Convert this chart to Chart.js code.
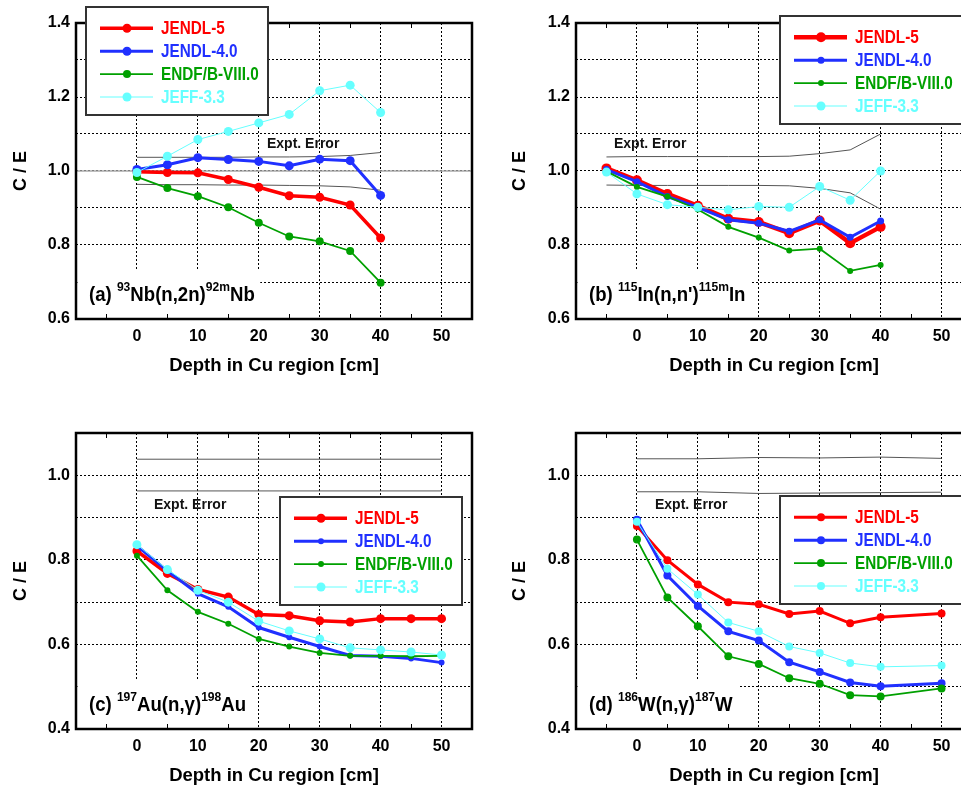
<!DOCTYPE html>
<html><head><meta charset="utf-8">
<script src="https://cdn.jsdelivr.net/npm/chart.js@4.4.1/dist/chart.umd.min.js"></script>
<style>
html,body{margin:0;padding:0;background:#fff;overflow:hidden;width:961px;height:789px;position:relative;}
canvas{position:absolute;}
</style></head><body>
<canvas id="pa" width="480" height="390" style="left:0;top:0"></canvas>
<canvas id="pb" width="500" height="390" style="left:480px;top:0"></canvas>
<canvas id="pc" width="480" height="390" style="left:0;top:410px"></canvas>
<canvas id="pd" width="500" height="390" style="left:480px;top:410px"></canvas>
<script>
// ---------- data ----------
const seriesNames = ['JENDL-5', 'JENDL-4.0', 'ENDF/B-VIII.0', 'JEFF-3.3'];
const xTicks = [0, 10, 20, 30, 40, 50];
const xMinorTicks = [-5, 5, 15, 25, 35, 45];
const yTicksTop = [0.6, 0.7, 0.8, 0.9, 1.0, 1.1, 1.2, 1.3, 1.4];
const yLabelsTop = ['0.6', '', '0.8', '', '1.0', '', '1.2', '', '1.4'];
const yTicksBot = [0.4, 0.5, 0.6, 0.7, 0.8, 0.9, 1.0, 1.1];
const yLabelsBot = ['0.4', '', '0.6', '', '0.8', '', '1.0', ''];

// (a) 93Nb(n,2n)92mNb
const depthA = [0, 5, 10, 15, 20, 25, 30, 35, 40];
const nbJENDL5  = [0.998, 0.996, 0.995, 0.977, 0.956, 0.933, 0.929, 0.908, 0.819];
const nbJENDL40 = [1.004, 1.017, 1.036, 1.031, 1.026, 1.014, 1.032, 1.028, 0.934];
const nbENDF    = [0.984, 0.954, 0.932, 0.902, 0.860, 0.823, 0.810, 0.784, 0.698];
const nbJEFF    = [0.996, 1.040, 1.085, 1.107, 1.130, 1.153, 1.217, 1.232, 1.158];
const nbErrUpper = [1.037, 1.037, 1.037, 1.037, 1.038, 1.038, 1.039, 1.042, 1.050];
const nbErrLower = [0.964, 0.963, 0.963, 0.962, 0.962, 0.961, 0.960, 0.957, 0.948];
const nbRefX = [-10, 55];
const nbRefY = [1.0, 1.0];

// (b) 115In(n,n')115mIn
const depthB = [-5, 0, 5, 10, 15, 20, 25, 30, 35, 40];
const inJENDL5  = [1.007, 0.975, 0.938, 0.906, 0.871, 0.862, 0.832, 0.866, 0.805, 0.849];
const inJENDL40 = [1.004, 0.971, 0.931, 0.902, 0.868, 0.859, 0.837, 0.868, 0.821, 0.865];
const inENDF    = [0.999, 0.957, 0.931, 0.896, 0.849, 0.820, 0.785, 0.790, 0.730, 0.746];
const inJEFF    = [0.997, 0.938, 0.909, 0.902, 0.895, 0.904, 0.902, 0.958, 0.921, 1.000];
const inErrUpper = [1.038, 1.039, 1.039, 1.039, 1.039, 1.039, 1.040, 1.047, 1.057, 1.100];
const inErrLower = [0.962, 0.961, 0.961, 0.961, 0.961, 0.961, 0.960, 0.953, 0.941, 0.897];

// (c) 197Au(n,γ)198Au
const depthC = [0, 5, 10, 15, 20, 25, 30, 35, 40, 45, 50];
const auJENDL5  = [0.821, 0.768, 0.730, 0.712, 0.671, 0.668, 0.656, 0.653, 0.661, 0.661, 0.661];
const auJENDL40 = [0.833, 0.774, 0.720, 0.689, 0.640, 0.617, 0.595, 0.574, 0.572, 0.567, 0.557];
const auENDF    = [0.810, 0.728, 0.677, 0.649, 0.613, 0.595, 0.580, 0.573, 0.573, 0.572, 0.573];
const auJEFF    = [0.836, 0.777, 0.728, 0.700, 0.655, 0.632, 0.613, 0.592, 0.587, 0.582, 0.575];
const auErrDepth = [0, 50];
const auErrUpper = [1.038, 1.038];
const auErrLower = [0.963, 0.963];

// (d) 186W(n,γ)187W
const depthD = [0, 5, 10, 15, 20, 25, 30, 35, 40, 50];
const wJENDL5  = [0.880, 0.799, 0.742, 0.700, 0.695, 0.672, 0.679, 0.650, 0.664, 0.673];
const wJENDL40 = [0.895, 0.763, 0.691, 0.631, 0.609, 0.558, 0.535, 0.510, 0.501, 0.508];
const wENDF    = [0.848, 0.711, 0.643, 0.572, 0.554, 0.520, 0.507, 0.480, 0.477, 0.496];
const wJEFF    = [0.890, 0.779, 0.718, 0.652, 0.631, 0.595, 0.580, 0.556, 0.547, 0.550];
const wErrDepth = [0, 10, 20, 30, 40, 50];
const wErrUpper = [1.039, 1.039, 1.042, 1.041, 1.043, 1.040];
const wErrLower = [0.961, 0.961, 0.957, 0.958, 0.959, 0.960];

// ---------- styling ----------
const FONT = '"Liberation Sans", Arial, Helvetica, sans-serif';
Chart.defaults.font.family = FONT;
Chart.defaults.color = '#000';
const COLORS = ['#ff0000', '#2030ff', '#00a000', '#66ffff'];

function pts(xs, ys) { return xs.map((x, i) => ({ x: x, y: ys[i] })); }

function makePanel(id, p) {
  const datasets = [];
  p.series.forEach((s, i) => {
    datasets.push({
      label: seriesNames[i], data: pts(p.depth, s.values),
      borderColor: COLORS[i], backgroundColor: COLORS[i],
      pointBackgroundColor: COLORS[i], pointBorderColor: COLORS[i],
      borderWidth: s.w, pointRadius: s.r, pointBorderWidth: 0,
      tension: 0, order: 4 - i
    });
  });
  p.bands.forEach(b => {
    datasets.push({
      label: '', data: pts(b.x, b.y), borderColor: b.color || '#555',
      borderWidth: b.w || 1, pointRadius: 0, tension: 0, order: 10
    });
  });

  const deco = {
    id: 'deco',
    afterDraw(chart) {
      const ctx = chart.ctx, a = chart.chartArea, xs = chart.scales.x;
      ctx.save();
      // panel label with white background
      const lx = a.left + 13, ly = a.bottom - 18, sx = 0.93;
      ctx.textBaseline = 'alphabetic';
      const parts = p.label;
      const widths = parts.map(t => { ctx.font = 'bold ' + (t.sup ? 13 : 20) + 'px ' + FONT; return ctx.measureText(t.t).width * sx; });
      const total = widths.reduce((s, w) => s + w, 0);
      ctx.fillStyle = '#fff';
      ctx.fillRect(a.left + 1.5, a.bottom - 48, (lx - a.left) + total + 4, 46.5);
      ctx.fillStyle = '#000';
      let cx = lx;
      parts.forEach((t, i) => {
        ctx.save();
        ctx.font = 'bold ' + (t.sup ? 13 : 20) + 'px ' + FONT;
        ctx.translate(cx, t.sup ? ly - 10 : ly);
        ctx.scale(sx, 1);
        ctx.fillText(t.t, 0, 0);
        ctx.restore();
        cx += widths[i];
      });
      // Expt. Error text
      ctx.font = 'bold 14px ' + FONT;
      ctx.fillStyle = '#111';
      ctx.textBaseline = 'middle';
      ctx.fillText('Expt. Error', a.left + p.errText[0], a.top + p.errText[1]);
      // frame
      ctx.strokeStyle = '#000';
      ctx.lineWidth = 2.5;
      ctx.strokeRect(a.left, a.top, a.right - a.left, a.bottom - a.top);
      // minor ticks
      ctx.lineWidth = 1;
      ctx.beginPath();
      xMinorTicks.forEach(v => {
        const px = Math.round(xs.getPixelForValue(v)) + 0.5;
        ctx.moveTo(px, a.bottom); ctx.lineTo(px, a.bottom - 5);
        ctx.moveTo(px, a.top); ctx.lineTo(px, a.top + 5);
      });
      ctx.stroke();
      // legend
      const L = p.legend;
      const bx = a.left + L[0], by = a.top + L[1], bw = 182, bh = 108;
      ctx.fillStyle = '#fff';
      ctx.fillRect(bx, by, bw, bh);
      ctx.strokeStyle = '#333';
      ctx.lineWidth = 2;
      ctx.strokeRect(bx, by, bw, bh);
      p.series.forEach((s, i) => {
        const cy = by + 21.3 + i * 22.9;
        ctx.strokeStyle = COLORS[i];
        ctx.lineWidth = s.w;
        ctx.beginPath();
        ctx.moveTo(bx + 14, cy); ctx.lineTo(bx + 67, cy);
        ctx.stroke();
        ctx.fillStyle = COLORS[i];
        ctx.beginPath();
        ctx.arc(bx + 41, cy, s.r, 0, Math.PI * 2);
        ctx.fill();
        ctx.save();
        ctx.translate(bx + 75, cy + 1);
        ctx.scale(0.85, 1);
        ctx.font = 'bold 18px ' + FONT;
        ctx.textBaseline = 'middle';
        ctx.fillText(seriesNames[i], 0, 0);
        ctx.restore();
      });
      ctx.restore();
    }
  };

  return new Chart(document.getElementById(id), {
    type: 'line',
    data: { datasets: datasets },
    options: {
      responsive: false, animation: false, events: [],
      layout: { padding: { top: 23, right: 8, left: 0, bottom: 0 } },
      plugins: { legend: { display: false }, tooltip: { enabled: false } },
      scales: {
        x: {
          type: 'linear', min: -10, max: 55,
          afterBuildTicks: sc => { sc.ticks = xTicks.map(v => ({ value: v })); },
          afterFit: sc => { sc.height = 71; },
          ticks: { font: { size: 16, weight: 'bold' }, padding: 8, callback: v => String(v), maxRotation: 0 },
          grid: { color: '#000', lineWidth: 1, drawTicks: false },
          border: { display: false, dash: [2, 2] },
          title: { display: true, text: 'Depth in Cu region [cm]', font: { size: 18.5, weight: 'bold' }, padding: { top: 0, bottom: 12.5 } }
        },
        y: {
          type: 'linear', min: p.yTicks[0], max: p.yTicks[p.yTicks.length - 1],
          afterBuildTicks: sc => { sc.ticks = p.yTicks.map(v => ({ value: v })); },
          afterFit: sc => { sc.width = p.left; },
          ticks: { font: { size: 16, weight: 'bold' }, padding: 6, callback: (v, i) => p.yLabels[i] },
          grid: { color: '#000', lineWidth: 1, drawTicks: false },
          border: { display: false, dash: [2, 2] },
          title: { display: true, text: 'C / E', font: { size: 18, weight: 'bold' }, padding: { top: p.titlePad, bottom: 0 } }
        }
      }
    },
    plugins: [deco]
  });
}

makePanel('pa', {
  left: 76, titlePad: 10, yTicks: yTicksTop, yLabels: yLabelsTop, depth: depthA,
  series: [
    { values: nbJENDL5, w: 3.5, r: 4.5 }, { values: nbJENDL40, w: 3, r: 4.5 },
    { values: nbENDF, w: 1.8, r: 4 }, { values: nbJEFF, w: 1, r: 4.5 }
  ],
  bands: [{ x: nbRefX, y: nbRefY, color: '#aaa', w: 1.5 }, { x: depthA, y: nbErrUpper }, { x: depthA, y: nbErrLower }],
  label: [{ t: '(a) ' }, { t: '93', sup: true }, { t: 'Nb(n,2n)' }, { t: '92m', sup: true }, { t: 'Nb' }],
  errText: [191, 121], legend: [10, -16]
});
makePanel('pb', {
  left: 96, titlePad: 29, yTicks: yTicksTop, yLabels: yLabelsTop, depth: depthB,
  series: [
    { values: inJENDL5, w: 4.5, r: 5 }, { values: inJENDL40, w: 3, r: 3.5 },
    { values: inENDF, w: 1.8, r: 3 }, { values: inJEFF, w: 1, r: 4.5 }
  ],
  bands: [{ x: depthB, y: inErrUpper }, { x: depthB, y: inErrLower }],
  label: [{ t: '(b) ' }, { t: '115', sup: true }, { t: "In(n,n')" }, { t: '115m', sup: true }, { t: 'In' }],
  errText: [38, 121], legend: [204, -7]
});
makePanel('pc', {
  left: 76, titlePad: 10, yTicks: yTicksBot, yLabels: yLabelsBot, depth: depthC,
  series: [
    { values: auJENDL5, w: 3.5, r: 4.5 }, { values: auJENDL40, w: 3, r: 3 },
    { values: auENDF, w: 1.8, r: 3 }, { values: auJEFF, w: 1, r: 4.5 }
  ],
  bands: [{ x: auErrDepth, y: auErrUpper }, { x: auErrDepth, y: auErrLower }],
  label: [{ t: '(c) ' }, { t: '197', sup: true }, { t: 'Au(n,γ)' }, { t: '198', sup: true }, { t: 'Au' }],
  errText: [78, 72], legend: [204, 64]
});
makePanel('pd', {
  left: 96, titlePad: 29, yTicks: yTicksBot, yLabels: yLabelsBot, depth: depthD,
  series: [
    { values: wJENDL5, w: 3, r: 4 }, { values: wJENDL40, w: 3, r: 4 },
    { values: wENDF, w: 1.8, r: 4 }, { values: wJEFF, w: 1, r: 4 }
  ],
  bands: [{ x: wErrDepth, y: wErrUpper }, { x: wErrDepth, y: wErrLower }],
  label: [{ t: '(d) ' }, { t: '186', sup: true }, { t: 'W(n,γ)' }, { t: '187', sup: true }, { t: 'W' }],
  errText: [79, 72], legend: [204, 63]
});
</script>
</body></html>
